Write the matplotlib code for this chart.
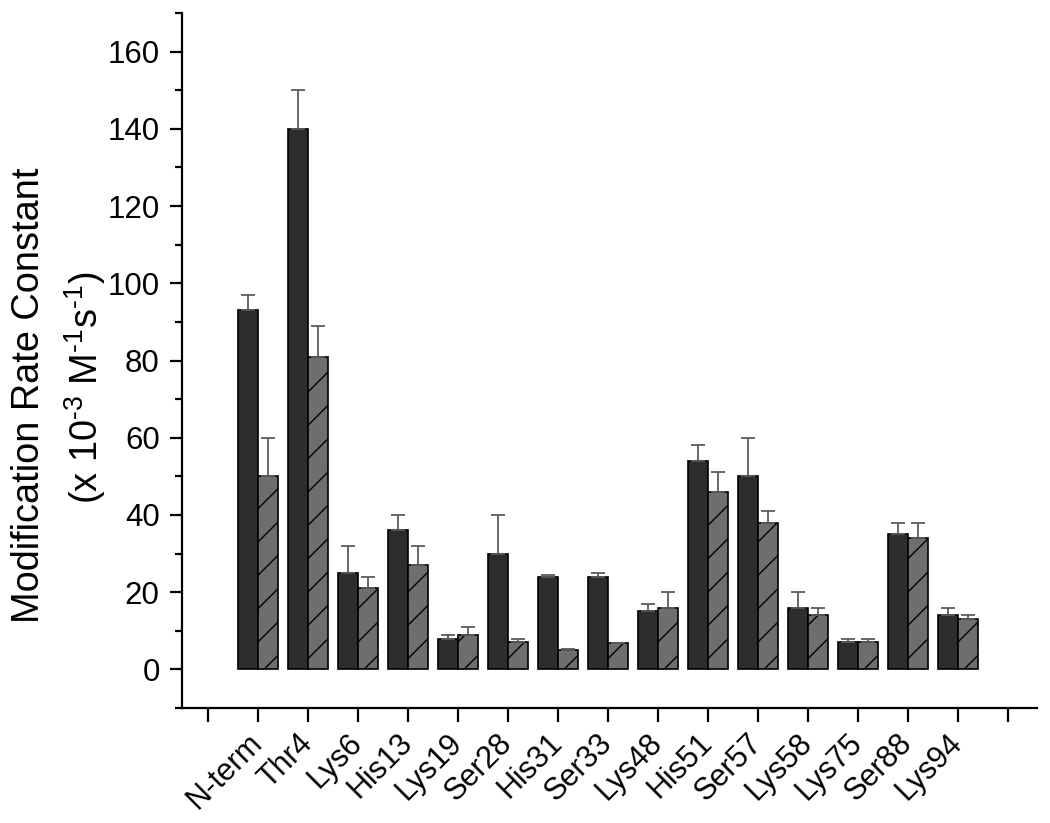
import matplotlib
matplotlib.use('Agg')
import matplotlib.pyplot as plt
import numpy as np

plt.rcParams['font.family'] = ['Liberation Sans', 'DejaVu Sans']
plt.rcParams['mathtext.fontset'] = 'custom'
plt.rcParams['mathtext.rm'] = 'Liberation Sans'
plt.rcParams['mathtext.it'] = 'Liberation Sans:italic'
plt.rcParams['mathtext.bf'] = 'Liberation Sans:bold'
plt.rcParams['hatch.linewidth'] = 1.0

# datos
sitios = ['N-term', 'Thr4', 'Lys6', 'His13', 'Lys19', 'Ser28', 'His31', 'Ser33',
          'Lys48', 'His51', 'Ser57', 'Lys58', 'Lys75', 'Ser88', 'Lys94']
serie1 = [93, 140, 25, 36, 8, 30, 24, 24, 15, 54, 50, 16, 7, 35, 14]
err1 = [4, 10, 7, 4, 1, 10, 0.5, 1, 2, 4, 10, 4, 1, 3, 2]
serie2 = [50, 81, 21, 27, 9, 7, 5, 6.8, 16, 46, 38, 14, 7, 34, 13]
err2 = [10, 8, 3, 5, 2, 1, 0.2, 0.1, 4, 5, 3, 2, 1, 4, 1]

fig = plt.figure(figsize=(10.5, 8.23), dpi=100)
ax = fig.add_axes([0.1733, 0.1397, 0.8143, 0.8445])

x = np.arange(1, len(sitios) + 1)
w = 0.4
ax.bar(x - w / 2, serie1, w, color='#2d2d2d', edgecolor='black', linewidth=1.2)
ax.bar(x + w / 2, serie2, w, color='#6e6e6e', edgecolor='black', linewidth=1.2, hatch='/')
ax.errorbar(x - w / 2, serie1, yerr=[np.zeros(len(err1)), err1], fmt='none',
            ecolor='#5a5a5a', elinewidth=1.3, capsize=4.7, capthick=1.3)
ax.errorbar(x + w / 2, serie2, yerr=[np.zeros(len(err2)), err2], fmt='none',
            ecolor='#5a5a5a', elinewidth=1.3, capsize=4.7, capthick=1.3)

ax.set_xlim(-0.52, 16.58)
ax.set_ylim(-10, 170)

ax.spines['top'].set_visible(False)
ax.spines['right'].set_visible(False)
ax.spines['left'].set_linewidth(1.6)
ax.spines['bottom'].set_linewidth(1.6)

ax.set_xticks(np.arange(0, len(sitios) + 2))
ax.set_xticklabels([''] + sitios + [''], rotation=45, ha='right', va='center',
                   rotation_mode='anchor', fontsize=22)
ax.set_yticks(np.arange(0, 161, 20))
ax.set_yticks(np.arange(-10, 171, 10), minor=True)
ax.tick_params(axis='y', which='major', length=9, width=1.6, labelsize=22.5, pad=7)
ax.tick_params(axis='y', which='minor', length=5, width=1.6)
ax.tick_params(axis='x', which='major', length=10, width=1.6, pad=12)

# etiqueta del eje y en dos lineas
fig.text(29 / 1050, 1 - 395 / 823, 'Modification Rate Constant', rotation=90,
         ha='center', va='center', fontsize=27.3)
fig.text(85 / 1050, 1 - 388 / 823,
         '(x 10$^{\\mathrm{\u2010}3}$ M$^{\\mathrm{\u2010}1}$s$^{\\mathrm{\u2010}1}$)',
         rotation=90, ha='center', va='center', fontsize=27.3)

fig.savefig('out.png', dpi=100)
